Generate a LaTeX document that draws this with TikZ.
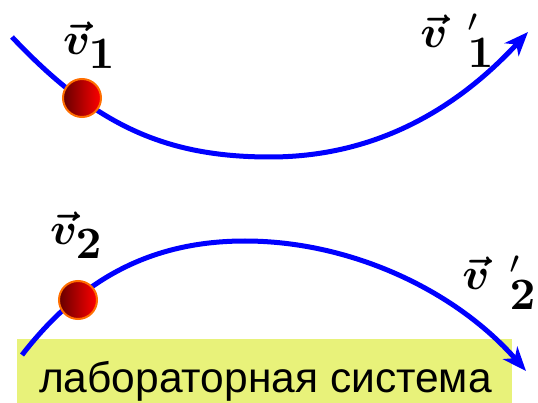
\documentclass[tikz,border=0pt]{standalone}
\usepackage{amsmath}
\usepackage{bm}
\usepackage{graphicx}
\usepackage{fontspec}
\setmainfont{Liberation Sans}
\usetikzlibrary{arrows.meta}
\definecolor{pathblue}{RGB}{0,0,255}
\definecolor{boxyellow}{RGB}{232,242,122}
\definecolor{ballrim}{RGB}{255,110,0}
\tikzset{
  trajectory/.style={line width=5pt, draw=pathblue, -{Stealth[length=24pt,width=19pt,inset=7pt]}},
  ball/.style={circle, minimum size=38pt, inner sep=0pt, line width=2pt, draw=ballrim, left color=red!40!black, right color=red},
  vlabel/.style={inner sep=0pt, anchor=base},
  labbox/.style={fill=boxyellow, minimum width=495pt, minimum height=65pt, inner sep=0pt}
}
\newcommand{\vlab}[1]{\scalebox{4.5}{$\bm{\vec{v}}_{\textstyle\bm{#1}}$}}
\newcommand{\vlabp}[1]{\scalebox{4.5}{$\bm{\vec{v}}\;\,{}'_{\textstyle\bm{#1}}$}}
\begin{document}
\begin{tikzpicture}[x=1pt,y=-1pt]
\useasboundingbox (0,0) rectangle (538,403);
\node[labbox] (sys) at (264.5,371) {};
\node[font=\fontsize{42.5}{48}\selectfont, anchor=base] (systext) at (265.5,392) {лабораторная система};
\coordinate (s1) at (12,37);
\coordinate (m1) at (270,157);
\coordinate (e1) at (528,32);
\coordinate (s2) at (22,355);
\coordinate (m2) at (245,241);
\coordinate (e2) at (526,371);
\draw[trajectory] (s1) .. controls (95,125) and (165,157) .. (m1) .. controls (385,157) and (465,100) .. (e1);
\draw[trajectory] (s2) .. controls (80,280) and (150,241) .. (m2) .. controls (350,241) and (455,290) .. (e2);
\node[ball] (b1) at (82,98) {};
\node[ball] (b2) at (78,300) {};
\node[vlabel] (v1) at (90,55) {\vlab{1}};
\node[vlabel] (v1p) at (458,48) {\vlabp{1}};
\node[vlabel] (v2) at (77,245) {\vlab{2}};
\node[vlabel] (v2p) at (500,290) {\vlabp{2}};
\end{tikzpicture}
\end{document}
